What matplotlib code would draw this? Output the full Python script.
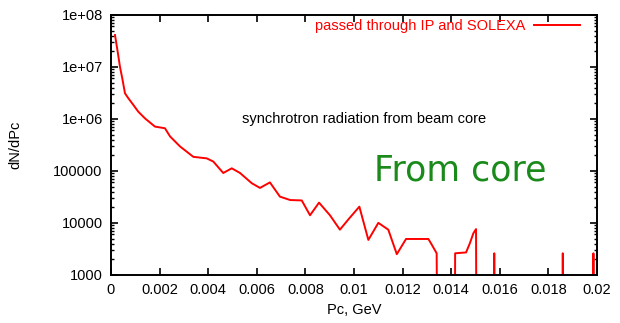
#!/usr/bin/env python3
"""Synchrotron radiation spectrum from beam core (gnuplot-style log plot)."""
import matplotlib
matplotlib.use("Agg")
import matplotlib.pyplot as plt
from matplotlib.ticker import LogLocator, NullFormatter, FixedLocator

# momentum Pc (GeV) and dN/dPc; 1.0 marks empty bins
pc = [0.000165, 0.000276, 0.00037, 0.000465, 0.000576, 0.000712, 0.000918,
      0.00112, 0.0014, 0.00181, 0.00222, 0.00243, 0.00284, 0.00339, 0.00394,
      0.00421, 0.00462, 0.00497, 0.00531, 0.00579, 0.00613, 0.00654, 0.00695,
      0.00737, 0.00785, 0.00819, 0.00856, 0.00901, 0.00942, 0.00979, 0.01022,
      0.01059, 0.0110, 0.01141, 0.01176, 0.01214, 0.01306, 0.0132, 0.0134,
      0.01345, 0.01414, 0.01416, 0.01461, 0.01477, 0.01491, 0.01502, 0.01505,
      0.01575, 0.01577, 0.01579, 0.01857, 0.01859, 0.01861, 0.01983, 0.01985,
      0.01987]
dndpc = [4.1e7, 1.95e7, 1.0e7, 6.0e6, 3.1e6, 2.5e6, 1.86e6,
         1.38e6, 1.02e6, 7.1e5, 6.6e5, 4.6e5, 2.95e5, 1.86e5, 1.74e5,
         1.51e5, 9.1e4, 1.12e5, 9.1e4, 5.8e4, 4.7e4, 6.0e4, 3.2e4,
         2.75e4, 2.7e4, 1.4e4, 2.45e4, 1.4e4, 7.4e3, 1.2e4, 2.05e4,
         4.7e3, 1.0e4, 7.4e3, 2.5e3, 4.9e3, 4.9e3, 3.8e3, 2.6e3,
         1.0, 1.0, 2.6e3, 2.7e3, 4.1e3, 6.3e3, 7.6e3, 1.0,
         1.0, 2.6e3, 1.0, 1.0, 2.6e3, 1.0, 1.0, 2.6e3,
         1.0]

xticks = [0, 0.002, 0.004, 0.006, 0.008, 0.01, 0.012, 0.014, 0.016, 0.018, 0.02]
xticklabels = ["0", "0.002", "0.004", "0.006", "0.008", "0.01", "0.012",
               "0.014", "0.016", "0.018", "0.02"]
yticks = [1e3, 1e4, 1e5, 1e6, 1e7, 1e8]
yticklabels = ["1000", "10000", "100000", "1e+06", "1e+07", "1e+08"]

plt.rcParams["font.family"] = ["Liberation Sans", "DejaVu Sans"]
FS = 10.5

fig = plt.figure(figsize=(6.2, 3.23), dpi=100)
ax = fig.add_axes([0.179, 0.149, 0.784, 0.805])

ax.plot(pc, dndpc, "-", color="red", lw=1.4,
        label="passed through IP and SOLEXA")
ax.set_yscale("log")
ax.set_xlim(0, 0.02)
ax.set_ylim(1e3, 1e8)

ax.xaxis.set_major_locator(FixedLocator(xticks))
ax.set_xticklabels(xticklabels)
ax.yaxis.set_major_locator(FixedLocator(yticks))
ax.set_yticklabels(yticklabels)
ax.yaxis.set_minor_locator(LogLocator(base=10, subs=(2, 3, 4, 5, 6, 7, 8, 9)))
ax.yaxis.set_minor_formatter(NullFormatter())

ax.tick_params(which="major", direction="in", length=5, width=1.2,
               top=True, right=True, labelsize=FS, pad=6)
ax.tick_params(which="minor", direction="in", length=2.5, width=1,
               left=True, right=True)
for s in ax.spines.values():
    s.set_linewidth(1.4)

ax.set_xlabel("Pc, GeV", fontsize=FS, labelpad=4)
ax.set_ylabel("dN/dPc", fontsize=FS, labelpad=22)

ax.legend(loc="upper right", bbox_to_anchor=(0.973, 1.0), frameon=False,
          markerfirst=False, handlelength=3.1, fontsize=FS, labelcolor="red",
          borderaxespad=0.0, borderpad=0.3, handletextpad=0.6)

ax.text(0.52, 0.6, "synchrotron radiation from beam core", transform=ax.transAxes,
        ha="center", va="center", fontsize=FS, color="black")
ax.text(0.718, 0.40, "From core", transform=ax.transAxes,
        ha="center", va="center", fontsize=25, color="#1a8a1a",
        family=["DejaVu Sans"])

fig.savefig("out.png", dpi=100)
